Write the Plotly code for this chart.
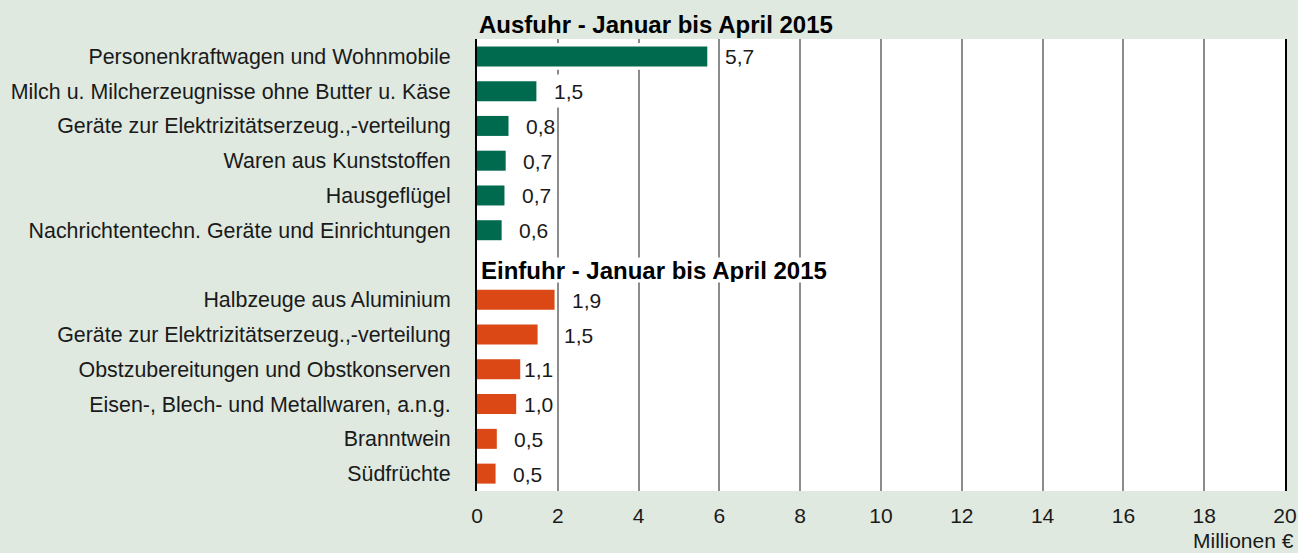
import plotly.graph_objects as go

FONT = "Liberation Sans, Arial, sans-serif"
TEXT_COLOR = "#1a1a1a"
PAPER_BG = "#dfe9e0"
GREEN = "#006a4e"
ORANGE = "#dc4815"
GRID = "#8c8c8c"

export_title = "Ausfuhr - Januar bis April 2015"
import_title = "Einfuhr - Januar bis April 2015"

export_items = ["Personenkraftwagen und Wohnmobile",
                "Milch u. Milcherzeugnisse ohne Butter u. Käse",
                "Geräte zur Elektrizitätserzeug.,-verteilung",
                "Waren aus Kunststoffen",
                "Hausgeflügel",
                "Nachrichtentechn. Geräte und Einrichtungen"]
export_values = [5.70, 1.47, 0.78, 0.71, 0.68, 0.61]

import_items = ["Halbzeuge aus Aluminium",
                "Geräte zur Elektrizitätserzeug.,-verteilung",
                "Obstzubereitungen und Obstkonserven",
                "Eisen-, Blech- und Metallwaren, a.n.g.",
                "Branntwein",
                "Südfrüchte"]
import_values = [1.92, 1.50, 1.07, 0.97, 0.49, 0.46]

x_ticks = [0, 2, 4, 6, 8, 10, 12, 14, 16, 18, 20]
unit = "Millionen €"

# row slots: 0 = export header, 1-6 export, 7 = import header, 8-13 import
export_rows = list(range(1, 7))
import_rows = list(range(8, 14))
# small horizontal nudges of value labels (px) so they dodge gridlines like the original
export_nudge = [0, 0, 0, 0, 0, 0]
import_nudge = [0, 9, -14, -10, 0, 0]


def fmt(v):
    return f"{v:.1f}".replace(".", ",")


fig = go.Figure()
for rows, vals, color in [(export_rows, export_values, GREEN), (import_rows, import_values, ORANGE)]:
    # white halo behind the bar (hides gridlines just above/below the bar)
    fig.add_trace(go.Bar(x=vals, y=rows, orientation="h", width=0.77,
                         marker=dict(color="white", line=dict(width=0)),
                         hoverinfo="skip", showlegend=False))
    fig.add_trace(go.Bar(x=vals, y=rows, orientation="h", width=0.575,
                         marker=dict(color=color, line=dict(width=0)),
                         showlegend=False))

annotations = []
for rows, vals, nudges in [(export_rows, export_values, export_nudge), (import_rows, import_values, import_nudge)]:
    for r, v, n in zip(rows, vals, nudges):
        annotations.append(dict(x=v, y=r, xref="x", yref="y", text=fmt(v), showarrow=False,
                                xanchor="center", yanchor="middle", xshift=32 + n,
                                bgcolor="white", height=32, borderpad=0,
                                font=dict(family=FONT, size=21, color=TEXT_COLOR)))

annotations.append(dict(x=0, y=1, xref="paper", yref="paper", text="<b>" + export_title + "</b>",
                        showarrow=False, xanchor="left", yanchor="middle", xshift=0, yshift=15,
                        font=dict(family=FONT, size=24, color="black")))
annotations.append(dict(x=0, y=7, xref="paper", yref="y", text="<b>" + import_title + "</b>",
                        showarrow=False, xanchor="left", yanchor="middle", xshift=3, yshift=-5,
                        bgcolor="white", borderpad=0, height=24,
                        font=dict(family=FONT, size=24, color="black")))
annotations.append(dict(x=1, y=0, xref="paper", yref="paper", text=unit, showarrow=False,
                        xanchor="right", yanchor="middle", xshift=11, yshift=-49,
                        font=dict(family=FONT, size=21, color=TEXT_COLOR)))

fig.update_layout(
    width=1298, height=553,
    barmode="overlay",
    paper_bgcolor=PAPER_BG,
    plot_bgcolor="white",
    margin=dict(l=477, r=13, t=39, b=62, autoexpand=False),
    font=dict(family=FONT, size=21, color=TEXT_COLOR),
    annotations=annotations,
)
fig.update_xaxes(range=[0, 20], tickvals=x_ticks, ticktext=[str(t) for t in x_ticks],
                 showgrid=True, gridcolor=GRID, gridwidth=2, zeroline=False, automargin=False,
                 ticks="outside", ticklen=6, tickcolor="rgba(0,0,0,0)",
                 tickfont=dict(family=FONT, size=21, color=TEXT_COLOR), fixedrange=True)
fig.update_yaxes(range=[13.5, 0.5], tickvals=export_rows + import_rows,
                 ticktext=export_items + import_items,
                 showgrid=False, zeroline=False, automargin=False,
                 showline=True, linecolor="black", linewidth=2, mirror=True,
                 ticks="outside", ticklen=20, tickcolor="rgba(0,0,0,0)",
                 tickfont=dict(family=FONT, size=21.4, color=TEXT_COLOR), fixedrange=True)

# drop the browser's default body margin so the figure fills the window
fig.write_html("out.html", config={"displayModeBar": False},
               post_script="document.body.style.margin='0';")
